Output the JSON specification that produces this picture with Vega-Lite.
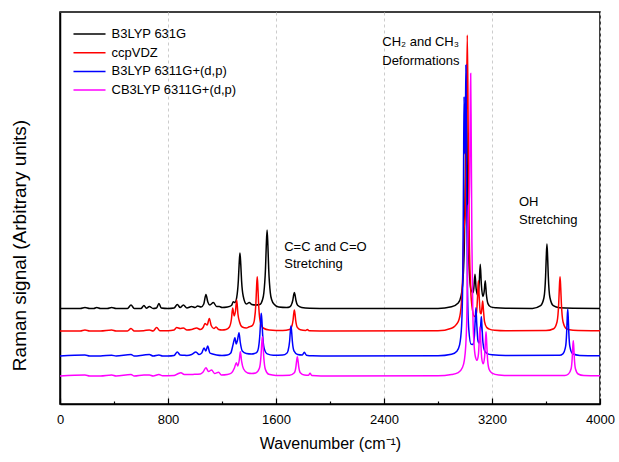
{
  "$schema": "https://vega.github.io/schema/vega-lite/v6.json",
  "width": 540,
  "height": 392,
  "autosize": {"type": "none"},
  "padding": {"left": 60, "top": 12, "right": 19, "bottom": 58},
  "background": "white",
  "config": {
    "view": {"stroke": "#000", "strokeWidth": 1.5},
    "font": "Liberation Sans",
    "axis": {
      "labelFont": "Liberation Sans",
      "titleFont": "Liberation Sans",
      "labelColor": "#000",
      "titleColor": "#000",
      "domainColor": "#000",
      "tickColor": "#000",
      "titleFontWeight": "normal"
    },
    "legend": {
      "labelFont": "Liberation Sans",
      "labelFontSize": 13,
      "labelColor": "#000",
      "symbolType": "M-3,0H3",
      "symbolSize": 114,
      "symbolStrokeWidth": 1.5,
      "labelOffset": 15.5,
      "rowPadding": 4.7,
      "padding": 0
    }
  },
  "datasets": {
    "spectra": [
      {"m": "B3LYP 631G", "w": 0, "v": 95.5}, {"m": "B3LYP 631G", "w": 150, "v": 95.5}, {"m": "B3LYP 631G", "w": 185, "v": 96.5}, {"m": "B3LYP 631G", "w": 220, "v": 95.5}, {"m": "B3LYP 631G", "w": 250, "v": 95.5}, {"m": "B3LYP 631G", "w": 272, "v": 96.5}, {"m": "B3LYP 631G", "w": 300, "v": 95.5}, {"m": "B3LYP 631G", "w": 350, "v": 95.5}, {"m": "B3LYP 631G", "w": 383, "v": 96.5}, {"m": "B3LYP 631G", "w": 415, "v": 95.5}, {"m": "B3LYP 631G", "w": 500, "v": 95.5}, {"m": "B3LYP 631G", "w": 526, "v": 99}, {"m": "B3LYP 631G", "w": 550, "v": 95.5}, {"m": "B3LYP 631G", "w": 600, "v": 95.5}, {"m": "B3LYP 631G", "w": 622, "v": 98.5}, {"m": "B3LYP 631G", "w": 640, "v": 95.8}, {"m": "B3LYP 631G", "w": 662, "v": 97.5}, {"m": "B3LYP 631G", "w": 690, "v": 95.5}, {"m": "B3LYP 631G", "w": 715, "v": 96}, {"m": "B3LYP 631G", "w": 733, "v": 100.5}, {"m": "B3LYP 631G", "w": 750, "v": 96}, {"m": "B3LYP 631G", "w": 800, "v": 95.5}, {"m": "B3LYP 631G", "w": 845, "v": 96}, {"m": "B3LYP 631G", "w": 869, "v": 99.5}, {"m": "B3LYP 631G", "w": 890, "v": 96.5}, {"m": "B3LYP 631G", "w": 914, "v": 99}, {"m": "B3LYP 631G", "w": 940, "v": 96}, {"m": "B3LYP 631G", "w": 975, "v": 97.5}, {"m": "B3LYP 631G", "w": 1000, "v": 96.5}, {"m": "B3LYP 631G", "w": 1020, "v": 98}, {"m": "B3LYP 631G", "w": 1045, "v": 97}, {"m": "B3LYP 631G", "w": 1065, "v": 100}, {"m": "B3LYP 631G", "w": 1081, "v": 109.5}, {"m": "B3LYP 631G", "w": 1095, "v": 102}, {"m": "B3LYP 631G", "w": 1110, "v": 99}, {"m": "B3LYP 631G", "w": 1136, "v": 101.5}, {"m": "B3LYP 631G", "w": 1160, "v": 97.5}, {"m": "B3LYP 631G", "w": 1180, "v": 97.5}, {"m": "B3LYP 631G", "w": 1200, "v": 96.5}, {"m": "B3LYP 631G", "w": 1240, "v": 97}, {"m": "B3LYP 631G", "w": 1270, "v": 98.5}, {"m": "B3LYP 631G", "w": 1284, "v": 102.3}, {"m": "B3LYP 631G", "w": 1296, "v": 101.5}, {"m": "B3LYP 631G", "w": 1309, "v": 106.6}, {"m": "B3LYP 631G", "w": 1321, "v": 123.3}, {"m": "B3LYP 631G", "w": 1327, "v": 139.9}, {"m": "B3LYP 631G", "w": 1333, "v": 151}, {"m": "B3LYP 631G", "w": 1339, "v": 139.9}, {"m": "B3LYP 631G", "w": 1345, "v": 123.3}, {"m": "B3LYP 631G", "w": 1357, "v": 108}, {"m": "B3LYP 631G", "w": 1381, "v": 100}, {"m": "B3LYP 631G", "w": 1402, "v": 101.5}, {"m": "B3LYP 631G", "w": 1420, "v": 99.5}, {"m": "B3LYP 631G", "w": 1450, "v": 99}, {"m": "B3LYP 631G", "w": 1480, "v": 99.5}, {"m": "B3LYP 631G", "w": 1500, "v": 104.2}, {"m": "B3LYP 631G", "w": 1510, "v": 111.2}, {"m": "B3LYP 631G", "w": 1522, "v": 134.8}, {"m": "B3LYP 631G", "w": 1528, "v": 158.3}, {"m": "B3LYP 631G", "w": 1534, "v": 174}, {"m": "B3LYP 631G", "w": 1540, "v": 158.3}, {"m": "B3LYP 631G", "w": 1546, "v": 134.8}, {"m": "B3LYP 631G", "w": 1558, "v": 111.2}, {"m": "B3LYP 631G", "w": 1568, "v": 104.2}, {"m": "B3LYP 631G", "w": 1588, "v": 99.5}, {"m": "B3LYP 631G", "w": 1620, "v": 97}, {"m": "B3LYP 631G", "w": 1680, "v": 96.5}, {"m": "B3LYP 631G", "w": 1700, "v": 97}, {"m": "B3LYP 631G", "w": 1712, "v": 98.7}, {"m": "B3LYP 631G", "w": 1724, "v": 103.5}, {"m": "B3LYP 631G", "w": 1730, "v": 108.3}, {"m": "B3LYP 631G", "w": 1736, "v": 111.5}, {"m": "B3LYP 631G", "w": 1742, "v": 108.3}, {"m": "B3LYP 631G", "w": 1748, "v": 103.5}, {"m": "B3LYP 631G", "w": 1760, "v": 98.7}, {"m": "B3LYP 631G", "w": 1790, "v": 96.5}, {"m": "B3LYP 631G", "w": 1850, "v": 95.8}, {"m": "B3LYP 631G", "w": 2000, "v": 95.5}, {"m": "B3LYP 631G", "w": 2400, "v": 95.5}, {"m": "B3LYP 631G", "w": 2800, "v": 95.6}, {"m": "B3LYP 631G", "w": 2900, "v": 97.2}, {"m": "B3LYP 631G", "w": 2950, "v": 101}, {"m": "B3LYP 631G", "w": 2970, "v": 107.7}, {"m": "B3LYP 631G", "w": 2985, "v": 124}, {"m": "B3LYP 631G", "w": 2995, "v": 160}, {"m": "B3LYP 631G", "w": 3002, "v": 222}, {"m": "B3LYP 631G", "w": 3010, "v": 304}, {"m": "B3LYP 631G", "w": 3018, "v": 222}, {"m": "B3LYP 631G", "w": 3025, "v": 160}, {"m": "B3LYP 631G", "w": 3035, "v": 126}, {"m": "B3LYP 631G", "w": 3045, "v": 114}, {"m": "B3LYP 631G", "w": 3060, "v": 111.3}, {"m": "B3LYP 631G", "w": 3066, "v": 116.8}, {"m": "B3LYP 631G", "w": 3074, "v": 129.8}, {"m": "B3LYP 631G", "w": 3082, "v": 116}, {"m": "B3LYP 631G", "w": 3094, "v": 108.7}, {"m": "B3LYP 631G", "w": 3105, "v": 120.4}, {"m": "B3LYP 631G", "w": 3113, "v": 139.8}, {"m": "B3LYP 631G", "w": 3121, "v": 119.9}, {"m": "B3LYP 631G", "w": 3132, "v": 107.6}, {"m": "B3LYP 631G", "w": 3142, "v": 112.3}, {"m": "B3LYP 631G", "w": 3150, "v": 123.3}, {"m": "B3LYP 631G", "w": 3158, "v": 110}, {"m": "B3LYP 631G", "w": 3170, "v": 100.4}, {"m": "B3LYP 631G", "w": 3190, "v": 97.1}, {"m": "B3LYP 631G", "w": 3230, "v": 96.2}, {"m": "B3LYP 631G", "w": 3300, "v": 95.7}, {"m": "B3LYP 631G", "w": 3500, "v": 95.5}, {"m": "B3LYP 631G", "w": 3560, "v": 98.3}, {"m": "B3LYP 631G", "w": 3585, "v": 106.5}, {"m": "B3LYP 631G", "w": 3597, "v": 127.8}, {"m": "B3LYP 631G", "w": 3602, "v": 147.1}, {"m": "B3LYP 631G", "w": 3607, "v": 160}, {"m": "B3LYP 631G", "w": 3612, "v": 147.1}, {"m": "B3LYP 631G", "w": 3617, "v": 127.8}, {"m": "B3LYP 631G", "w": 3629, "v": 106.5}, {"m": "B3LYP 631G", "w": 3654, "v": 98.3}, {"m": "B3LYP 631G", "w": 3700, "v": 96.2}, {"m": "B3LYP 631G", "w": 3800, "v": 95.7}, {"m": "B3LYP 631G", "w": 4000, "v": 95.5},

      {"m": "ccpVDZ", "w": 0, "v": 73}, {"m": "ccpVDZ", "w": 150, "v": 73}, {"m": "ccpVDZ", "w": 185, "v": 74}, {"m": "ccpVDZ", "w": 220, "v": 73}, {"m": "ccpVDZ", "w": 300, "v": 73}, {"m": "ccpVDZ", "w": 383, "v": 74}, {"m": "ccpVDZ", "w": 415, "v": 73}, {"m": "ccpVDZ", "w": 500, "v": 73}, {"m": "ccpVDZ", "w": 526, "v": 75.5}, {"m": "ccpVDZ", "w": 550, "v": 73}, {"m": "ccpVDZ", "w": 620, "v": 73.3}, {"m": "ccpVDZ", "w": 662, "v": 74}, {"m": "ccpVDZ", "w": 690, "v": 73}, {"m": "ccpVDZ", "w": 716, "v": 76.5}, {"m": "ccpVDZ", "w": 740, "v": 73.3}, {"m": "ccpVDZ", "w": 800, "v": 73.3}, {"m": "ccpVDZ", "w": 845, "v": 74}, {"m": "ccpVDZ", "w": 864, "v": 76.5}, {"m": "ccpVDZ", "w": 890, "v": 75.5}, {"m": "ccpVDZ", "w": 914, "v": 76}, {"m": "ccpVDZ", "w": 940, "v": 74}, {"m": "ccpVDZ", "w": 975, "v": 74.5}, {"m": "ccpVDZ", "w": 1012, "v": 76}, {"m": "ccpVDZ", "w": 1040, "v": 74.5}, {"m": "ccpVDZ", "w": 1060, "v": 76.5}, {"m": "ccpVDZ", "w": 1074, "v": 80.5}, {"m": "ccpVDZ", "w": 1090, "v": 79}, {"m": "ccpVDZ", "w": 1106, "v": 85.5}, {"m": "ccpVDZ", "w": 1120, "v": 78.5}, {"m": "ccpVDZ", "w": 1140, "v": 75.5}, {"m": "ccpVDZ", "w": 1156, "v": 77}, {"m": "ccpVDZ", "w": 1175, "v": 74.5}, {"m": "ccpVDZ", "w": 1200, "v": 74}, {"m": "ccpVDZ", "w": 1230, "v": 74.5}, {"m": "ccpVDZ", "w": 1255, "v": 77}, {"m": "ccpVDZ", "w": 1270, "v": 85}, {"m": "ccpVDZ", "w": 1279, "v": 96}, {"m": "ccpVDZ", "w": 1290, "v": 88}, {"m": "ccpVDZ", "w": 1300, "v": 93}, {"m": "ccpVDZ", "w": 1309, "v": 104}, {"m": "ccpVDZ", "w": 1318, "v": 90}, {"m": "ccpVDZ", "w": 1330, "v": 82}, {"m": "ccpVDZ", "w": 1350, "v": 77}, {"m": "ccpVDZ", "w": 1380, "v": 76}, {"m": "ccpVDZ", "w": 1402, "v": 77.3}, {"m": "ccpVDZ", "w": 1420, "v": 78}, {"m": "ccpVDZ", "w": 1432, "v": 80}, {"m": "ccpVDZ", "w": 1440, "v": 84}, {"m": "ccpVDZ", "w": 1451, "v": 100.5}, {"m": "ccpVDZ", "w": 1456, "v": 116.5}, {"m": "ccpVDZ", "w": 1461, "v": 127.3}, {"m": "ccpVDZ", "w": 1466, "v": 116.5}, {"m": "ccpVDZ", "w": 1471, "v": 100.5}, {"m": "ccpVDZ", "w": 1482, "v": 83.5}, {"m": "ccpVDZ", "w": 1505, "v": 76}, {"m": "ccpVDZ", "w": 1550, "v": 74}, {"m": "ccpVDZ", "w": 1650, "v": 73.5}, {"m": "ccpVDZ", "w": 1700, "v": 74.5}, {"m": "ccpVDZ", "w": 1714, "v": 76.6}, {"m": "ccpVDZ", "w": 1726, "v": 83.5}, {"m": "ccpVDZ", "w": 1731, "v": 89.8}, {"m": "ccpVDZ", "w": 1736, "v": 94}, {"m": "ccpVDZ", "w": 1741, "v": 89.8}, {"m": "ccpVDZ", "w": 1746, "v": 83.5}, {"m": "ccpVDZ", "w": 1758, "v": 76.6}, {"m": "ccpVDZ", "w": 1780, "v": 74.2}, {"m": "ccpVDZ", "w": 1820, "v": 73.5}, {"m": "ccpVDZ", "w": 1832, "v": 74.5}, {"m": "ccpVDZ", "w": 1845, "v": 73.3}, {"m": "ccpVDZ", "w": 2000, "v": 73}, {"m": "ccpVDZ", "w": 2800, "v": 73.2}, {"m": "ccpVDZ", "w": 2900, "v": 75.8}, {"m": "ccpVDZ", "w": 2950, "v": 82.4}, {"m": "ccpVDZ", "w": 2970, "v": 95.6}, {"m": "ccpVDZ", "w": 2982, "v": 124.4}, {"m": "ccpVDZ", "w": 2992, "v": 172.3}, {"m": "ccpVDZ", "w": 3002, "v": 190.7}, {"m": "ccpVDZ", "w": 3010, "v": 278.5}, {"m": "ccpVDZ", "w": 3017, "v": 369}, {"m": "ccpVDZ", "w": 3024, "v": 270.2}, {"m": "ccpVDZ", "w": 3032, "v": 164.9}, {"m": "ccpVDZ", "w": 3042, "v": 115.4}, {"m": "ccpVDZ", "w": 3055, "v": 94.3}, {"m": "ccpVDZ", "w": 3070, "v": 87.4}, {"m": "ccpVDZ", "w": 3085, "v": 90.9}, {"m": "ccpVDZ", "w": 3093, "v": 107.2}, {"m": "ccpVDZ", "w": 3099, "v": 123.2}, {"m": "ccpVDZ", "w": 3105, "v": 107.5}, {"m": "ccpVDZ", "w": 3113, "v": 91.4}, {"m": "ccpVDZ", "w": 3120, "v": 90.3}, {"m": "ccpVDZ", "w": 3126, "v": 97.1}, {"m": "ccpVDZ", "w": 3131, "v": 103}, {"m": "ccpVDZ", "w": 3137, "v": 93.2}, {"m": "ccpVDZ", "w": 3145, "v": 82.1}, {"m": "ccpVDZ", "w": 3160, "v": 76.8}, {"m": "ccpVDZ", "w": 3180, "v": 74.9}, {"m": "ccpVDZ", "w": 3220, "v": 73.8}, {"m": "ccpVDZ", "w": 3300, "v": 73.3}, {"m": "ccpVDZ", "w": 3600, "v": 73.5}, {"m": "ccpVDZ", "w": 3657, "v": 75.3}, {"m": "ccpVDZ", "w": 3682, "v": 82.2}, {"m": "ccpVDZ", "w": 3694, "v": 100.2}, {"m": "ccpVDZ", "w": 3699, "v": 116.4}, {"m": "ccpVDZ", "w": 3704, "v": 127.3}, {"m": "ccpVDZ", "w": 3709, "v": 116.4}, {"m": "ccpVDZ", "w": 3714, "v": 100.2}, {"m": "ccpVDZ", "w": 3726, "v": 82.2}, {"m": "ccpVDZ", "w": 3751, "v": 75.3}, {"m": "ccpVDZ", "w": 3800, "v": 73.8}, {"m": "ccpVDZ", "w": 4000, "v": 73.2},

      {"m": "B3LYP 6311G+(d,p)", "w": 0, "v": 48}, {"m": "B3LYP 6311G+(d,p)", "w": 185, "v": 49}, {"m": "B3LYP 6311G+(d,p)", "w": 220, "v": 48}, {"m": "B3LYP 6311G+(d,p)", "w": 300, "v": 48}, {"m": "B3LYP 6311G+(d,p)", "w": 383, "v": 48.8}, {"m": "B3LYP 6311G+(d,p)", "w": 415, "v": 48}, {"m": "B3LYP 6311G+(d,p)", "w": 526, "v": 49.5}, {"m": "B3LYP 6311G+(d,p)", "w": 550, "v": 48}, {"m": "B3LYP 6311G+(d,p)", "w": 622, "v": 49}, {"m": "B3LYP 6311G+(d,p)", "w": 662, "v": 49.5}, {"m": "B3LYP 6311G+(d,p)", "w": 690, "v": 48}, {"m": "B3LYP 6311G+(d,p)", "w": 733, "v": 49}, {"m": "B3LYP 6311G+(d,p)", "w": 760, "v": 48}, {"m": "B3LYP 6311G+(d,p)", "w": 800, "v": 48}, {"m": "B3LYP 6311G+(d,p)", "w": 845, "v": 48.5}, {"m": "B3LYP 6311G+(d,p)", "w": 869, "v": 52}, {"m": "B3LYP 6311G+(d,p)", "w": 890, "v": 49}, {"m": "B3LYP 6311G+(d,p)", "w": 914, "v": 48.8}, {"m": "B3LYP 6311G+(d,p)", "w": 940, "v": 48.5}, {"m": "B3LYP 6311G+(d,p)", "w": 975, "v": 49.5}, {"m": "B3LYP 6311G+(d,p)", "w": 1007, "v": 52}, {"m": "B3LYP 6311G+(d,p)", "w": 1030, "v": 49.5}, {"m": "B3LYP 6311G+(d,p)", "w": 1050, "v": 51}, {"m": "B3LYP 6311G+(d,p)", "w": 1067, "v": 56}, {"m": "B3LYP 6311G+(d,p)", "w": 1080, "v": 53}, {"m": "B3LYP 6311G+(d,p)", "w": 1094, "v": 58}, {"m": "B3LYP 6311G+(d,p)", "w": 1110, "v": 51}, {"m": "B3LYP 6311G+(d,p)", "w": 1130, "v": 50}, {"m": "B3LYP 6311G+(d,p)", "w": 1160, "v": 49}, {"m": "B3LYP 6311G+(d,p)", "w": 1200, "v": 48.5}, {"m": "B3LYP 6311G+(d,p)", "w": 1240, "v": 49}, {"m": "B3LYP 6311G+(d,p)", "w": 1265, "v": 51}, {"m": "B3LYP 6311G+(d,p)", "w": 1283, "v": 60}, {"m": "B3LYP 6311G+(d,p)", "w": 1296, "v": 66.3}, {"m": "B3LYP 6311G+(d,p)", "w": 1305, "v": 60}, {"m": "B3LYP 6311G+(d,p)", "w": 1315, "v": 64}, {"m": "B3LYP 6311G+(d,p)", "w": 1326, "v": 71.3}, {"m": "B3LYP 6311G+(d,p)", "w": 1335, "v": 62}, {"m": "B3LYP 6311G+(d,p)", "w": 1350, "v": 53}, {"m": "B3LYP 6311G+(d,p)", "w": 1380, "v": 50.5}, {"m": "B3LYP 6311G+(d,p)", "w": 1420, "v": 50}, {"m": "B3LYP 6311G+(d,p)", "w": 1440, "v": 50.5}, {"m": "B3LYP 6311G+(d,p)", "w": 1460, "v": 52}, {"m": "B3LYP 6311G+(d,p)", "w": 1470, "v": 56}, {"m": "B3LYP 6311G+(d,p)", "w": 1481, "v": 70.5}, {"m": "B3LYP 6311G+(d,p)", "w": 1486, "v": 82.5}, {"m": "B3LYP 6311G+(d,p)", "w": 1491, "v": 90.7}, {"m": "B3LYP 6311G+(d,p)", "w": 1496, "v": 82.5}, {"m": "B3LYP 6311G+(d,p)", "w": 1501, "v": 69.4}, {"m": "B3LYP 6311G+(d,p)", "w": 1512, "v": 55.9}, {"m": "B3LYP 6311G+(d,p)", "w": 1535, "v": 50.1}, {"m": "B3LYP 6311G+(d,p)", "w": 1580, "v": 48.8}, {"m": "B3LYP 6311G+(d,p)", "w": 1650, "v": 49}, {"m": "B3LYP 6311G+(d,p)", "w": 1680, "v": 50.8}, {"m": "B3LYP 6311G+(d,p)", "w": 1689, "v": 53.1}, {"m": "B3LYP 6311G+(d,p)", "w": 1701, "v": 63}, {"m": "B3LYP 6311G+(d,p)", "w": 1706, "v": 72}, {"m": "B3LYP 6311G+(d,p)", "w": 1711, "v": 78}, {"m": "B3LYP 6311G+(d,p)", "w": 1716, "v": 72}, {"m": "B3LYP 6311G+(d,p)", "w": 1721, "v": 63}, {"m": "B3LYP 6311G+(d,p)", "w": 1733, "v": 53.1}, {"m": "B3LYP 6311G+(d,p)", "w": 1760, "v": 49.5}, {"m": "B3LYP 6311G+(d,p)", "w": 1795, "v": 49}, {"m": "B3LYP 6311G+(d,p)", "w": 1810, "v": 51.7}, {"m": "B3LYP 6311G+(d,p)", "w": 1825, "v": 48.8}, {"m": "B3LYP 6311G+(d,p)", "w": 1870, "v": 48.2}, {"m": "B3LYP 6311G+(d,p)", "w": 2000, "v": 48}, {"m": "B3LYP 6311G+(d,p)", "w": 2800, "v": 48.2}, {"m": "B3LYP 6311G+(d,p)", "w": 2900, "v": 49.7}, {"m": "B3LYP 6311G+(d,p)", "w": 2940, "v": 52.8}, {"m": "B3LYP 6311G+(d,p)", "w": 2960, "v": 59.1}, {"m": "B3LYP 6311G+(d,p)", "w": 2975, "v": 78.7}, {"m": "B3LYP 6311G+(d,p)", "w": 2984, "v": 131.9}, {"m": "B3LYP 6311G+(d,p)", "w": 2989, "v": 225.7}, {"m": "B3LYP 6311G+(d,p)", "w": 2993, "v": 307.3}, {"m": "B3LYP 6311G+(d,p)", "w": 2999, "v": 250.3}, {"m": "B3LYP 6311G+(d,p)", "w": 3003, "v": 283.3}, {"m": "B3LYP 6311G+(d,p)", "w": 3007, "v": 339}, {"m": "B3LYP 6311G+(d,p)", "w": 3012, "v": 219.7}, {"m": "B3LYP 6311G+(d,p)", "w": 3018, "v": 118.9}, {"m": "B3LYP 6311G+(d,p)", "w": 3028, "v": 74.7}, {"m": "B3LYP 6311G+(d,p)", "w": 3045, "v": 59.7}, {"m": "B3LYP 6311G+(d,p)", "w": 3060, "v": 59.6}, {"m": "B3LYP 6311G+(d,p)", "w": 3070, "v": 68.6}, {"m": "B3LYP 6311G+(d,p)", "w": 3076, "v": 85.1}, {"m": "B3LYP 6311G+(d,p)", "w": 3081, "v": 96.2}, {"m": "B3LYP 6311G+(d,p)", "w": 3087, "v": 80.4}, {"m": "B3LYP 6311G+(d,p)", "w": 3095, "v": 64.2}, {"m": "B3LYP 6311G+(d,p)", "w": 3103, "v": 61.1}, {"m": "B3LYP 6311G+(d,p)", "w": 3111, "v": 66.8}, {"m": "B3LYP 6311G+(d,p)", "w": 3116, "v": 78}, {"m": "B3LYP 6311G+(d,p)", "w": 3121, "v": 87.4}, {"m": "B3LYP 6311G+(d,p)", "w": 3126, "v": 76.7}, {"m": "B3LYP 6311G+(d,p)", "w": 3133, "v": 61.4}, {"m": "B3LYP 6311G+(d,p)", "w": 3145, "v": 53.4}, {"m": "B3LYP 6311G+(d,p)", "w": 3165, "v": 50.4}, {"m": "B3LYP 6311G+(d,p)", "w": 3200, "v": 49.2}, {"m": "B3LYP 6311G+(d,p)", "w": 3300, "v": 48.4}, {"m": "B3LYP 6311G+(d,p)", "w": 3700, "v": 48.8}, {"m": "B3LYP 6311G+(d,p)", "w": 3725, "v": 50.2}, {"m": "B3LYP 6311G+(d,p)", "w": 3745, "v": 57.3}, {"m": "B3LYP 6311G+(d,p)", "w": 3753, "v": 71.4}, {"m": "B3LYP 6311G+(d,p)", "w": 3757, "v": 85.4}, {"m": "B3LYP 6311G+(d,p)", "w": 3761, "v": 94.7}, {"m": "B3LYP 6311G+(d,p)", "w": 3765, "v": 85.4}, {"m": "B3LYP 6311G+(d,p)", "w": 3769, "v": 71.4}, {"m": "B3LYP 6311G+(d,p)", "w": 3777, "v": 57.3}, {"m": "B3LYP 6311G+(d,p)", "w": 3797, "v": 50.2}, {"m": "B3LYP 6311G+(d,p)", "w": 3850, "v": 48.6}, {"m": "B3LYP 6311G+(d,p)", "w": 4000, "v": 48.2},

      {"m": "CB3LYP 6311G+(d,p)", "w": 0, "v": 28}, {"m": "CB3LYP 6311G+(d,p)", "w": 185, "v": 29}, {"m": "CB3LYP 6311G+(d,p)", "w": 220, "v": 28}, {"m": "CB3LYP 6311G+(d,p)", "w": 300, "v": 28}, {"m": "CB3LYP 6311G+(d,p)", "w": 383, "v": 29}, {"m": "CB3LYP 6311G+(d,p)", "w": 415, "v": 28}, {"m": "CB3LYP 6311G+(d,p)", "w": 526, "v": 29.5}, {"m": "CB3LYP 6311G+(d,p)", "w": 550, "v": 28}, {"m": "CB3LYP 6311G+(d,p)", "w": 622, "v": 29}, {"m": "CB3LYP 6311G+(d,p)", "w": 662, "v": 29}, {"m": "CB3LYP 6311G+(d,p)", "w": 690, "v": 28}, {"m": "CB3LYP 6311G+(d,p)", "w": 733, "v": 29.5}, {"m": "CB3LYP 6311G+(d,p)", "w": 760, "v": 28.3}, {"m": "CB3LYP 6311G+(d,p)", "w": 845, "v": 28.5}, {"m": "CB3LYP 6311G+(d,p)", "w": 870, "v": 30}, {"m": "CB3LYP 6311G+(d,p)", "w": 896, "v": 31.3}, {"m": "CB3LYP 6311G+(d,p)", "w": 920, "v": 29.5}, {"m": "CB3LYP 6311G+(d,p)", "w": 975, "v": 29.5}, {"m": "CB3LYP 6311G+(d,p)", "w": 1010, "v": 29.8}, {"m": "CB3LYP 6311G+(d,p)", "w": 1040, "v": 30}, {"m": "CB3LYP 6311G+(d,p)", "w": 1060, "v": 32}, {"m": "CB3LYP 6311G+(d,p)", "w": 1081, "v": 36.3}, {"m": "CB3LYP 6311G+(d,p)", "w": 1100, "v": 32.5}, {"m": "CB3LYP 6311G+(d,p)", "w": 1123, "v": 34}, {"m": "CB3LYP 6311G+(d,p)", "w": 1145, "v": 30.5}, {"m": "CB3LYP 6311G+(d,p)", "w": 1175, "v": 31.7}, {"m": "CB3LYP 6311G+(d,p)", "w": 1195, "v": 29}, {"m": "CB3LYP 6311G+(d,p)", "w": 1240, "v": 29.5}, {"m": "CB3LYP 6311G+(d,p)", "w": 1270, "v": 31}, {"m": "CB3LYP 6311G+(d,p)", "w": 1292, "v": 36}, {"m": "CB3LYP 6311G+(d,p)", "w": 1306, "v": 41.3}, {"m": "CB3LYP 6311G+(d,p)", "w": 1317, "v": 38}, {"m": "CB3LYP 6311G+(d,p)", "w": 1328, "v": 44}, {"m": "CB3LYP 6311G+(d,p)", "w": 1336, "v": 52.3}, {"m": "CB3LYP 6311G+(d,p)", "w": 1345, "v": 43}, {"m": "CB3LYP 6311G+(d,p)", "w": 1360, "v": 35}, {"m": "CB3LYP 6311G+(d,p)", "w": 1390, "v": 31}, {"m": "CB3LYP 6311G+(d,p)", "w": 1420, "v": 30.5}, {"m": "CB3LYP 6311G+(d,p)", "w": 1450, "v": 31}, {"m": "CB3LYP 6311G+(d,p)", "w": 1477, "v": 35.7}, {"m": "CB3LYP 6311G+(d,p)", "w": 1489, "v": 48.4}, {"m": "CB3LYP 6311G+(d,p)", "w": 1494, "v": 59.4}, {"m": "CB3LYP 6311G+(d,p)", "w": 1499, "v": 67.3}, {"m": "CB3LYP 6311G+(d,p)", "w": 1504, "v": 59.4}, {"m": "CB3LYP 6311G+(d,p)", "w": 1509, "v": 47.7}, {"m": "CB3LYP 6311G+(d,p)", "w": 1521, "v": 34.7}, {"m": "CB3LYP 6311G+(d,p)", "w": 1546, "v": 29.7}, {"m": "CB3LYP 6311G+(d,p)", "w": 1600, "v": 28.6}, {"m": "CB3LYP 6311G+(d,p)", "w": 1700, "v": 28.8}, {"m": "CB3LYP 6311G+(d,p)", "w": 1736, "v": 31.3}, {"m": "CB3LYP 6311G+(d,p)", "w": 1748, "v": 37.7}, {"m": "CB3LYP 6311G+(d,p)", "w": 1753, "v": 43.4}, {"m": "CB3LYP 6311G+(d,p)", "w": 1758, "v": 47.3}, {"m": "CB3LYP 6311G+(d,p)", "w": 1763, "v": 43.4}, {"m": "CB3LYP 6311G+(d,p)", "w": 1768, "v": 37.7}, {"m": "CB3LYP 6311G+(d,p)", "w": 1780, "v": 31.3}, {"m": "CB3LYP 6311G+(d,p)", "w": 1810, "v": 28.9}, {"m": "CB3LYP 6311G+(d,p)", "w": 1840, "v": 28.7}, {"m": "CB3LYP 6311G+(d,p)", "w": 1852, "v": 30.7}, {"m": "CB3LYP 6311G+(d,p)", "w": 1865, "v": 28.5}, {"m": "CB3LYP 6311G+(d,p)", "w": 2000, "v": 28}, {"m": "CB3LYP 6311G+(d,p)", "w": 2800, "v": 28.2}, {"m": "CB3LYP 6311G+(d,p)", "w": 2900, "v": 29.4}, {"m": "CB3LYP 6311G+(d,p)", "w": 2950, "v": 31.4}, {"m": "CB3LYP 6311G+(d,p)", "w": 2980, "v": 36.3}, {"m": "CB3LYP 6311G+(d,p)", "w": 2995, "v": 43.7}, {"m": "CB3LYP 6311G+(d,p)", "w": 3005, "v": 57.2}, {"m": "CB3LYP 6311G+(d,p)", "w": 3013, "v": 84.9}, {"m": "CB3LYP 6311G+(d,p)", "w": 3020, "v": 147.1}, {"m": "CB3LYP 6311G+(d,p)", "w": 3025, "v": 198.4}, {"m": "CB3LYP 6311G+(d,p)", "w": 3030, "v": 200.5}, {"m": "CB3LYP 6311G+(d,p)", "w": 3035, "v": 233.3}, {"m": "CB3LYP 6311G+(d,p)", "w": 3039, "v": 303.1}, {"m": "CB3LYP 6311G+(d,p)", "w": 3042, "v": 330.4}, {"m": "CB3LYP 6311G+(d,p)", "w": 3046, "v": 267.9}, {"m": "CB3LYP 6311G+(d,p)", "w": 3051, "v": 162.4}, {"m": "CB3LYP 6311G+(d,p)", "w": 3058, "v": 91.6}, {"m": "CB3LYP 6311G+(d,p)", "w": 3066, "v": 62.1}, {"m": "CB3LYP 6311G+(d,p)", "w": 3078, "v": 46.8}, {"m": "CB3LYP 6311G+(d,p)", "w": 3090, "v": 43.7}, {"m": "CB3LYP 6311G+(d,p)", "w": 3100, "v": 50.3}, {"m": "CB3LYP 6311G+(d,p)", "w": 3106, "v": 65.5}, {"m": "CB3LYP 6311G+(d,p)", "w": 3111, "v": 77.1}, {"m": "CB3LYP 6311G+(d,p)", "w": 3116, "v": 64.8}, {"m": "CB3LYP 6311G+(d,p)", "w": 3124, "v": 45.7}, {"m": "CB3LYP 6311G+(d,p)", "w": 3135, "v": 40.3}, {"m": "CB3LYP 6311G+(d,p)", "w": 3145, "v": 46.9}, {"m": "CB3LYP 6311G+(d,p)", "w": 3151, "v": 61.9}, {"m": "CB3LYP 6311G+(d,p)", "w": 3156, "v": 72.2}, {"m": "CB3LYP 6311G+(d,p)", "w": 3161, "v": 60.3}, {"m": "CB3LYP 6311G+(d,p)", "w": 3168, "v": 43.1}, {"m": "CB3LYP 6311G+(d,p)", "w": 3180, "v": 34.2}, {"m": "CB3LYP 6311G+(d,p)", "w": 3200, "v": 30.9}, {"m": "CB3LYP 6311G+(d,p)", "w": 3250, "v": 29}, {"m": "CB3LYP 6311G+(d,p)", "w": 3350, "v": 28.4}, {"m": "CB3LYP 6311G+(d,p)", "w": 3740, "v": 28.6}, {"m": "CB3LYP 6311G+(d,p)", "w": 3766, "v": 30}, {"m": "CB3LYP 6311G+(d,p)", "w": 3786, "v": 35.2}, {"m": "CB3LYP 6311G+(d,p)", "w": 3794, "v": 45.8}, {"m": "CB3LYP 6311G+(d,p)", "w": 3798, "v": 56.3}, {"m": "CB3LYP 6311G+(d,p)", "w": 3802, "v": 63.3}, {"m": "CB3LYP 6311G+(d,p)", "w": 3806, "v": 56.3}, {"m": "CB3LYP 6311G+(d,p)", "w": 3810, "v": 45.8}, {"m": "CB3LYP 6311G+(d,p)", "w": 3818, "v": 35.2}, {"m": "CB3LYP 6311G+(d,p)", "w": 3838, "v": 30}, {"m": "CB3LYP 6311G+(d,p)", "w": 3880, "v": 28.5}, {"m": "CB3LYP 6311G+(d,p)", "w": 4000, "v": 28.2}
    ],
    "notes": [
      {"label": "C=C and C=O", "w": 1661, "v": 153},
      {"label": "Stretching", "w": 1661, "v": 136.3},
      {"label": "CH₂ and CH₃", "w": 2387, "v": 358},
      {"label": "Deformations", "w": 2387, "v": 339},
      {"label": "OH", "w": 3400, "v": 198},
      {"label": "Stretching", "w": 3400, "v": 180.3}
    ]
  },
  "layer": [
    {
      "data": {"name": "spectra"},
      "encoding": {
        "x": {
          "field": "w",
          "type": "quantitative",
          "scale": {"domain": [0, 4000], "nice": false, "zero": false},
          "axis": {
            "values": [0, 800, 1600, 2400, 3200, 4000],
            "format": "d",
            "tickSize": -6,
            "tickWidth": 1.2,
            "labelPadding": 15,
            "labelFontSize": 13,
            "labelFlush": false,
            "domainWidth": 1.5,
            "grid": true,
            "gridDash": [3, 3],
            "gridColor": "#cccccc",
            "title": "Wavenumber (cm⁻¹)",
            "titleFontSize": 16,
            "titleBaseline": "alphabetic",
            "titleY": 44
          }
        },
        "y": {
          "field": "v",
          "type": "quantitative",
          "scale": {"domain": [0, 392], "nice": false},
          "axis": {
            "labels": false,
            "ticks": false,
            "grid": false,
            "domainWidth": 1.5,
            "title": "Raman signal (Arbitrary units)",
            "titleFontSize": 19,
            "titleAngle": -90,
            "titleAlign": "center",
            "titleBaseline": "alphabetic",
            "titleX": -35,
            "titleY": 233
          }
        },
        "color": {
          "field": "m",
          "type": "nominal",
          "scale": {
            "domain": ["B3LYP 631G", "ccpVDZ", "B3LYP 6311G+(d,p)", "CB3LYP 6311G+(d,p)"],
            "range": ["#000000", "#ff0000", "#0000ff", "#ff00ff"]
          },
          "legend": {"title": null, "orient": "none", "legendX": 23, "legendY": 15.5}
        }
      },
      "layer": [
        {
          "transform": [{"filter": "datum.m === 'B3LYP 631G'"}],
          "mark": {"type": "line", "strokeWidth": 1.5, "interpolate": "monotone"}
        },
        {
          "transform": [{"filter": "datum.m === 'ccpVDZ'"}],
          "mark": {"type": "line", "strokeWidth": 1.5, "interpolate": "monotone"}
        },
        {
          "transform": [{"filter": "datum.m === 'B3LYP 6311G+(d,p)'"}],
          "mark": {"type": "line", "strokeWidth": 1.5, "interpolate": "monotone"}
        },
        {
          "transform": [{"filter": "datum.m === 'CB3LYP 6311G+(d,p)'"}],
          "mark": {"type": "line", "strokeWidth": 1.5, "interpolate": "monotone"}
        }
      ]
    },
    {
      "data": {"name": "notes"},
      "mark": {"type": "text", "align": "left", "baseline": "alphabetic", "fontSize": 13, "font": "Liberation Sans", "color": "#000"},
      "encoding": {
        "x": {
          "field": "w",
          "type": "quantitative",
          "scale": {"domain": [0, 4000], "nice": false, "zero": false},
          "axis": {
            "orient": "bottom",
            "values": [400, 1200, 2000, 2800, 3600],
            "tickSize": -3,
            "tickWidth": 1.2,
            "labels": false,
            "domain": false,
            "grid": false,
            "title": null
          }
        },
        "y": {"field": "v", "type": "quantitative"},
        "text": {"field": "label"}
      }
    }
  ],
  "resolve": {"axis": {"x": "independent"}}
}
